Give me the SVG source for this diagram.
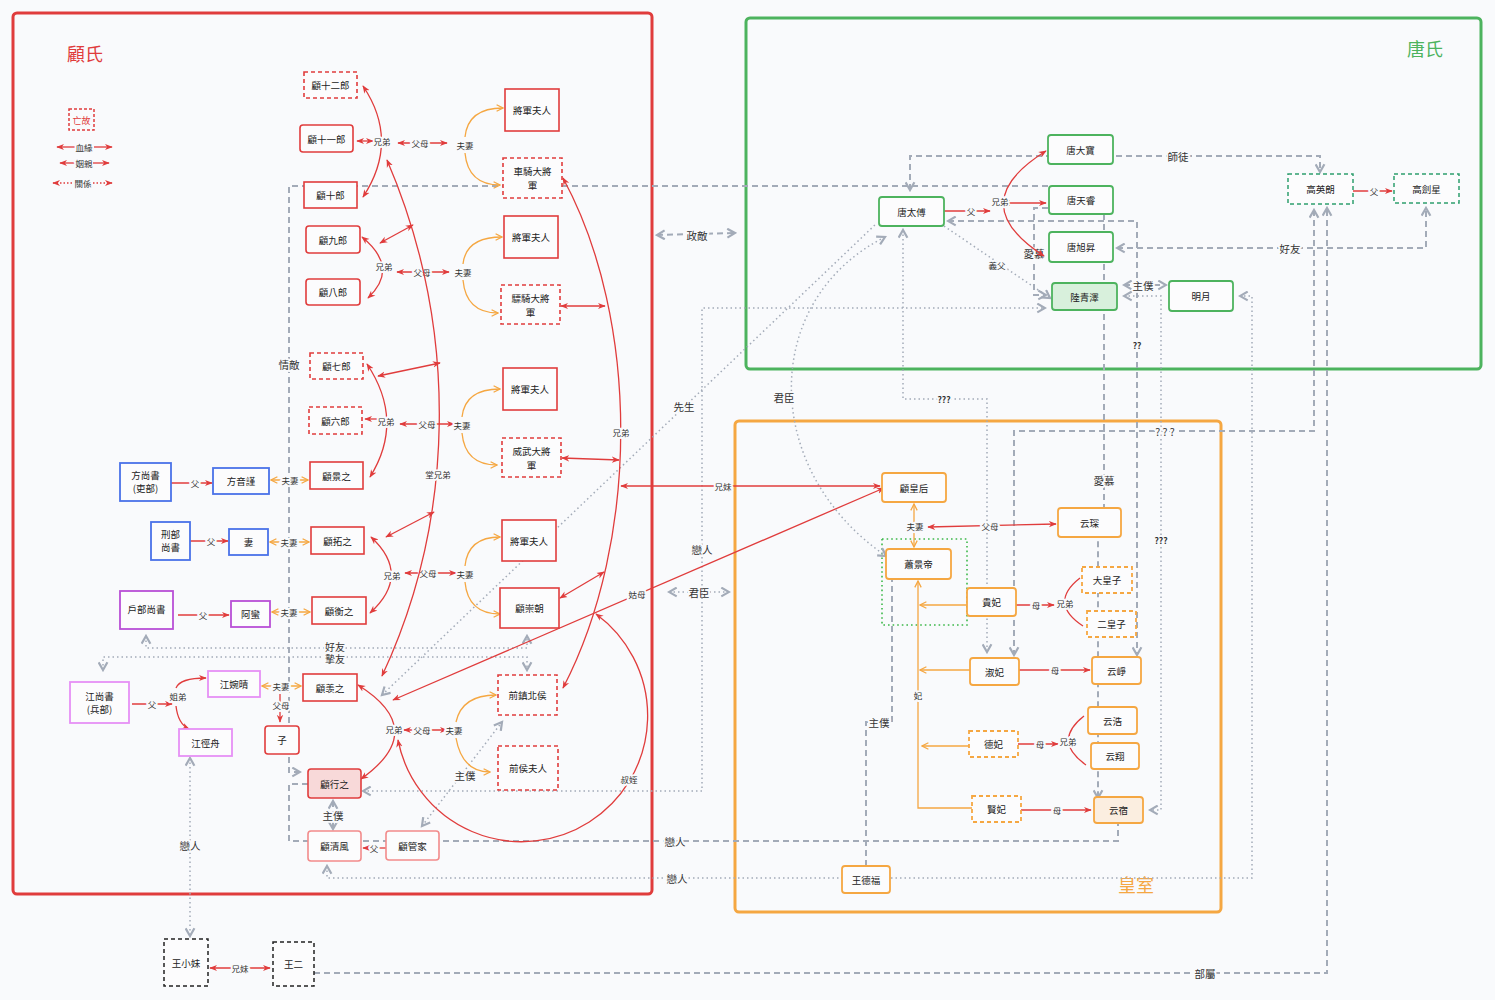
<svg xmlns="http://www.w3.org/2000/svg" width="1495" height="1000" viewBox="0 0 1495 1000">
<style>
text{font-family:"Noto Sans CJK TC","Noto Sans CJK SC",sans-serif;}
.t{font-size:9.5px;fill:#222;text-anchor:middle;dominant-baseline:central;}
.lb{font-size:8.5px;fill:#333;text-anchor:middle;dominant-baseline:central;paint-order:stroke;stroke:#f9fafc;stroke-width:4px;stroke-linejoin:round;}
.lg{font-size:10.5px;fill:#333;text-anchor:middle;dominant-baseline:central;paint-order:stroke;stroke:#f9fafc;stroke-width:4px;stroke-linejoin:round;}
.r{fill:#fcfcfd;stroke:#e03c3c;stroke-width:1.6;}
.o{fill:#fcfcfd;stroke:#f5a742;stroke-width:1.8;}
.g{fill:#fcfcfd;stroke:#4db35e;stroke-width:1.8;}
.b{fill:#fcfcfd;stroke:#4a72e8;stroke-width:1.8;}
.p{fill:#fcfcfd;stroke:#b94fd6;stroke-width:1.8;}
.pl{fill:#fcfcfd;stroke:#e690f5;stroke-width:1.8;}
.k{fill:#fcfcfd;stroke:#222;stroke-width:1.5;stroke-dasharray:4 3;}
.tl{fill:#fcfcfd;stroke:#2e9e6e;stroke-width:1.5;stroke-dasharray:4 3;}
.d{stroke-dasharray:4 3;}
.er{fill:none;stroke:#e03c3c;stroke-width:1.3;}
.eo{fill:none;stroke:#f5a742;stroke-width:1.3;}
.gd{fill:none;stroke:#a3abb8;stroke-width:2;stroke-dasharray:6 4;}
.gt{fill:none;stroke:#a3abb8;stroke-width:1.5;stroke-dasharray:1.5 3;}
</style>
<defs>
<marker id="ar" viewBox="0 0 10 10" refX="9" refY="5" markerWidth="8" markerHeight="8" markerUnits="userSpaceOnUse" orient="auto-start-reverse"><path d="M0,1 L10,5 L0,9 L3,5 z" fill="#e03c3c"/></marker>
<marker id="ao" viewBox="0 0 10 10" refX="9" refY="5" markerWidth="8" markerHeight="8" markerUnits="userSpaceOnUse" orient="auto-start-reverse"><path d="M1,1 L9,5 L1,9" fill="none" stroke="#f5a742" stroke-width="1.6"/></marker>
<marker id="ag" viewBox="0 0 10 10" refX="8" refY="5" markerWidth="11" markerHeight="11" markerUnits="userSpaceOnUse" orient="auto-start-reverse"><path d="M1,1 L8,5 L1,9" fill="none" stroke="#a3abb8" stroke-width="2"/></marker>
</defs>
<rect x="0" y="0" width="1495" height="1000" fill="#f9fafc"/>

<!-- containers -->
<g id="container-gu">
<rect x="13" y="13" width="639" height="881" rx="4" fill="none" stroke="#e03c3c" stroke-width="3"/>
<text x="85" y="53" style="font-size:18px;fill:#e03c3c;text-anchor:middle;dominant-baseline:central;">顧氏</text>
</g>
<g id="container-tang">
<rect x="746" y="18" width="735" height="351" rx="4" fill="none" stroke="#4db35e" stroke-width="3"/>
<text x="1425" y="48" style="font-size:18px;fill:#4db35e;text-anchor:middle;dominant-baseline:central;">唐氏</text>
</g>
<g id="container-royal">
<rect x="735" y="421" width="486" height="491" rx="4" fill="none" stroke="#f5a742" stroke-width="3"/>
<text x="1136" y="884" style="font-size:18px;fill:#f5a742;text-anchor:middle;dominant-baseline:central;">皇室</text>
</g>
<rect x="882" y="539" width="85" height="86" fill="none" stroke="#3cb84a" stroke-width="1.6" stroke-dasharray="1.6 3"/>

<!-- legend -->
<g id="legend">
<rect x="69" y="109" width="25" height="21" fill="none" stroke="#e03c3c" stroke-width="1.5" stroke-dasharray="3 2"/>
<text x="81.5" y="120" style="font-size:9px;fill:#e03c3c;text-anchor:middle;dominant-baseline:central;">亡故</text>
<line x1="57" y1="147" x2="75" y2="147" class="er" marker-start="url(#ar)"/>
<text x="84" y="147" class="lb">血緣</text>
<line x1="94" y1="147" x2="112" y2="147" class="er" marker-end="url(#ar)"/>
<line x1="60" y1="163" x2="76" y2="163" class="er" marker-start="url(#ar)"/>
<text x="84" y="163" class="lb">姻親</text>
<line x1="93" y1="163" x2="109" y2="163" class="er" marker-end="url(#ar)"/>
<line x1="53" y1="183" x2="74" y2="183" class="er" stroke-dasharray="1.5 2" marker-start="url(#ar)"/>
<text x="83" y="183" class="lb">關係</text>
<line x1="93" y1="183" x2="112" y2="183" class="er" stroke-dasharray="1.5 2" marker-end="url(#ar)"/>
</g>

<g id="connectors">
<!-- gray relationship connectors -->
<path class="gd" d="M300 772 L289 772 L289 186 L1049 186" marker-start="url(#ag)"/>
<text x="289" y="364" class="lg">情敵</text>
<path class="gd" d="M308 784 L289 784 L289 841 L1118 841 L1118 823"/>
<text x="675" y="841" class="lg">戀人</text>
<path class="gt" d="M327 866 L327 878 L1252 878 L1252 296 L1240 296" marker-start="url(#ag)" marker-end="url(#ag)"/>
<text x="677" y="878" class="lg">戀人</text>
<path class="gd" d="M314 973 L1327 973 L1327 208" marker-end="url(#ag)"/>
<text x="1205" y="973" class="lg">部屬</text>
<path class="gt" d="M146 636 L146 648 L527 648 L527 636" marker-start="url(#ag)" marker-end="url(#ag)"/>
<path class="gt" d="M103 670 L103 657 L527 657 L527 670" marker-start="url(#ag)" marker-end="url(#ag)"/>
<text x="335" y="646" class="lg" style="font-size:10px">好友</text>
<text x="335" y="658.5" class="lg" style="font-size:10px">摯友</text>
<line class="gd" x1="657" y1="235" x2="735" y2="233" marker-start="url(#ag)" marker-end="url(#ag)"/>
<text x="697" y="235" class="lg">政敵</text>
<line class="gt" x1="669" y1="592" x2="729" y2="592" marker-start="url(#ag)" marker-end="url(#ag)"/>
<text x="699" y="592" class="lg">君臣</text>
<line class="gt" x1="382" y1="695" x2="877" y2="223" marker-start="url(#ag)"/>
<text x="684" y="406" class="lg">先生</text>
<path class="gt" d="M885 237 C760 300 760 470 886 556" marker-start="url(#ag)" marker-end="url(#ag)"/>
<text x="784" y="397" class="lg">君臣</text>
<line class="gt" x1="944" y1="226" x2="1050" y2="298" stroke-width="1.2" marker-end="url(#ag)"/>
<text x="997" y="265" class="lb">義父</text>
<path class="gd" d="M910 190 L910 156 L1320 156 L1320 172" marker-start="url(#ag)" marker-end="url(#ag)"/>
<text x="1178" y="156" class="lg">師徒</text>
<path class="gd" d="M948 221 L1137 221 L1137 655" marker-start="url(#ag)" marker-end="url(#ag)"/>
<text x="1137" y="345" class="lb" style="font-weight:bold">??</text>
<path class="gd" d="M1117 248 L1426 248 L1426 208" marker-start="url(#ag)" marker-end="url(#ag)"/>
<text x="1290" y="248" class="lg">好友</text>
<line class="gd" x1="1124" y1="285" x2="1166" y2="285" marker-start="url(#ag)" marker-end="url(#ag)"/>
<text x="1143" y="285" class="lg">主僕</text>
<path class="gt" d="M1124 296 L1161 296 L1161 810 L1150 810" marker-start="url(#ag)" marker-end="url(#ag)"/>
<text x="1161" y="540" class="lb" style="font-weight:bold">???</text>
<path class="gd" d="M1048 208 L1034 208 L1034 295 L1046 295" marker-end="url(#ag)"/>
<text x="1034" y="253" class="lg">愛慕</text>
<path class="gd" d="M1104 214 L1104 510 L1098 515 L1098 798" marker-end="url(#ag)"/>
<text x="1104" y="480" class="lg">愛慕</text>
<path class="gd" d="M1314 210 L1314 431 L1014 431 L1014 655" marker-start="url(#ag)" marker-end="url(#ag)"/>
<text x="1165" y="431" class="lg">? ? ?</text>
<path class="gt" d="M903 230 L903 399 L987 399 L987 652" marker-start="url(#ag)" marker-end="url(#ag)"/>
<text x="944" y="399" class="lb" style="font-weight:bold">???</text>
<path class="gt" d="M363 791 L702 791 L702 308 L1045 308" marker-start="url(#ag)" marker-end="url(#ag)"/>
<text x="702" y="549" class="lg">戀人</text>
<line class="gt" x1="422" y1="826" x2="502" y2="722" marker-start="url(#ag)" marker-end="url(#ag)"/>
<text x="465" y="775" class="lg">主僕</text>
<path class="gd" d="M866 866 L866 722 L892 722 L892 579"/>
<text x="879" y="722" class="lg">主僕</text>
<line class="gd" x1="333" y1="801" x2="333" y2="829" marker-start="url(#ag)" marker-end="url(#ag)"/>
<text x="333" y="815" class="lg">主僕</text>
<line class="gt" x1="190" y1="758" x2="190" y2="936" marker-start="url(#ag)" marker-end="url(#ag)"/>
<text x="190" y="845" class="lg">戀人</text>

<!-- Gu family group 1 -->
<path class="er" d="M363 86 Q400 141 363 197" marker-start="url(#ar)" marker-end="url(#ar)"/>
<line class="er" x1="357" y1="141" x2="373" y2="141" marker-start="url(#ar)" marker-end="url(#ar)"/>
<text x="382" y="141" class="lb">兄弟</text>
<line class="er" x1="398" y1="143" x2="447" y2="143" marker-start="url(#ar)" marker-end="url(#ar)"/>
<text x="420" y="143" class="lb">父母</text>
<text x="465" y="145" class="lb">夫妻</text>
<path class="eo" d="M465 137 Q468 108 503 108" marker-end="url(#ao)"/>
<path class="eo" d="M465 153 Q468 185 500 185" marker-end="url(#ao)"/>
<!-- group 2 -->
<path class="er" d="M362 237 Q400 268 368 298" marker-start="url(#ar)" marker-end="url(#ar)"/>
<text x="384" y="266" class="lb">兄弟</text>
<line class="er" x1="397" y1="272" x2="449" y2="272" marker-start="url(#ar)" marker-end="url(#ar)"/>
<text x="422" y="272" class="lb">父母</text>
<text x="463" y="272" class="lb">夫妻</text>
<path class="eo" d="M463 264 Q466 237 502 237" marker-end="url(#ao)"/>
<path class="eo" d="M463 280 Q466 313 498 313" marker-end="url(#ao)"/>
<line class="er" x1="380" y1="243" x2="413" y2="225" marker-start="url(#ar)" marker-end="url(#ar)"/>
<!-- group 3 -->
<path class="er" d="M367 364 Q405 421 370 477" marker-start="url(#ar)" marker-end="url(#ar)"/>
<line class="er" x1="365" y1="419" x2="378" y2="419" marker-start="url(#ar)"/>
<text x="386" y="421" class="lb">兄弟</text>
<line class="er" x1="400" y1="424" x2="454" y2="424" marker-start="url(#ar)" marker-end="url(#ar)"/>
<text x="427" y="424" class="lb">父母</text>
<text x="462" y="425" class="lb">夫妻</text>
<path class="eo" d="M462 417 Q465 389 500 389" marker-end="url(#ao)"/>
<path class="eo" d="M462 433 Q465 465 497 465" marker-end="url(#ao)"/>
<line class="er" x1="378" y1="376" x2="440" y2="363" marker-start="url(#ar)" marker-end="url(#ar)"/>
<!-- group 4 -->
<path class="er" d="M371 537 Q412 575 370 613" marker-start="url(#ar)" marker-end="url(#ar)"/>
<text x="392" y="575" class="lb">兄弟</text>
<line class="er" x1="405" y1="573" x2="456" y2="573" marker-start="url(#ar)" marker-end="url(#ar)"/>
<text x="428" y="573" class="lb">父母</text>
<text x="465" y="574" class="lb">夫妻</text>
<path class="eo" d="M465 566 Q468 537 500 537" marker-end="url(#ao)"/>
<path class="eo" d="M465 582 Q468 614 500 614" marker-end="url(#ao)"/>
<line class="er" x1="386" y1="537" x2="434" y2="512" marker-start="url(#ar)" marker-end="url(#ar)"/>
<!-- group 5 -->
<path class="er" d="M358 685 Q430 730 361 779" marker-start="url(#ar)" marker-end="url(#ar)"/>
<text x="394" y="729" class="lb">兄弟</text>
<line class="er" x1="404" y1="730" x2="447" y2="730" marker-start="url(#ar)" marker-end="url(#ar)"/>
<text x="422" y="730" class="lb">父母</text>
<text x="454" y="730" class="lb">夫妻</text>
<path class="eo" d="M456 722 Q462 695 496 695" marker-end="url(#ao)"/>
<path class="eo" d="M456 738 Q462 772 490 772" marker-end="url(#ao)"/>
<!-- big curves -->
<path class="er" d="M387 160 C460 330 455 520 382 676" marker-start="url(#ar)" marker-end="url(#ar)"/>
<text x="438" y="474" class="lb">堂兄弟</text>
<path class="er" d="M563 178 C640 320 640 540 563 688" marker-start="url(#ar)" marker-end="url(#ar)"/>
<text x="621" y="432" class="lb">兄弟</text>
<line class="er" x1="561" y1="306" x2="605" y2="306" marker-start="url(#ar)" marker-end="url(#ar)"/>
<line class="er" x1="562" y1="458" x2="619" y2="460" marker-start="url(#ar)" marker-end="url(#ar)"/>
<line class="er" x1="560" y1="598" x2="604" y2="572" marker-start="url(#ar)" marker-end="url(#ar)"/>
<line class="er" x1="621" y1="486" x2="880" y2="486" marker-start="url(#ar)" marker-end="url(#ar)"/>
<text x="723" y="486" class="lb">兄妹</text>
<line class="er" x1="393" y1="700" x2="884" y2="488" marker-start="url(#ar)" marker-end="url(#ar)"/>
<text x="637" y="594" class="lb">姑母</text>
<path class="er" d="M398 740 A126 126 0 1 0 596 614" marker-start="url(#ar)" marker-end="url(#ar)"/>
<text x="629" y="779" class="lb">叔姪</text>

<!-- in-laws -->
<line class="er" x1="171" y1="483" x2="212" y2="483" marker-end="url(#ar)"/>
<text x="195" y="483" class="lb">父</text>
<line class="eo" x1="271" y1="480" x2="308" y2="480" marker-start="url(#ao)" marker-end="url(#ao)"/>
<text x="290" y="480" class="lb">夫妻</text>
<line class="er" x1="190" y1="541" x2="228" y2="541" marker-end="url(#ar)"/>
<text x="211" y="541" class="lb">父</text>
<line class="eo" x1="270" y1="542" x2="309" y2="542" marker-start="url(#ao)" marker-end="url(#ao)"/>
<text x="289" y="542" class="lb">夫妻</text>
<line class="er" x1="178" y1="615" x2="229" y2="615" marker-end="url(#ar)"/>
<text x="203" y="615" class="lb">父</text>
<line class="eo" x1="272" y1="612" x2="310" y2="612" marker-start="url(#ao)" marker-end="url(#ao)"/>
<text x="289" y="612" class="lb">夫妻</text>
<line class="er" x1="132" y1="704" x2="172" y2="704" marker-end="url(#ar)"/>
<text x="152" y="704" class="lb">父</text>
<text x="178" y="696" class="lb">姐弟</text>
<path class="er" d="M176 688 Q180 678 206 678" marker-end="url(#ar)"/>
<path class="er" d="M176 706 Q178 724 189 729" marker-end="url(#ar)"/>
<line class="eo" x1="262" y1="686" x2="301" y2="686" marker-start="url(#ao)" marker-end="url(#ao)"/>
<text x="281" y="686" class="lb">夫妻</text>
<line class="er" x1="280" y1="694" x2="280" y2="722" marker-end="url(#ar)"/>
<text x="281" y="705" class="lb">父母</text>
<line class="er" x1="386" y1="848" x2="363" y2="848" marker-end="url(#ar)"/>
<text x="374" y="848" class="lb">父</text>
<line class="er" x1="210" y1="968" x2="270" y2="968" marker-start="url(#ar)" marker-end="url(#ar)"/>
<text x="240" y="968" class="lb">兄妹</text>

<!-- Tang -->
<line class="er" x1="944" y1="211" x2="990" y2="211" marker-end="url(#ar)"/>
<text x="971" y="211" class="lb">父</text>
<path class="er" d="M1046 151 Q962 203 1044 256" marker-start="url(#ar)" marker-end="url(#ar)"/>
<line class="er" x1="1003" y1="203" x2="1046" y2="203" marker-start="url(#ar)" marker-end="url(#ar)"/>
<text x="1000" y="201" class="lb">兄弟</text>
<line class="er" x1="1353" y1="191" x2="1392" y2="191" marker-end="url(#ar)"/>
<text x="1374" y="191" class="lb">父</text>

<!-- royal -->
<line class="eo" x1="914" y1="504" x2="914" y2="547" marker-start="url(#ao)" marker-end="url(#ao)"/>
<text x="915" y="526" class="lb">夫妻</text>
<line class="er" x1="928" y1="527" x2="1056" y2="524" marker-start="url(#ar)" marker-end="url(#ar)"/>
<text x="990" y="526" class="lb">父母</text>
<path class="eo" d="M918 581 L918 808 L972 808" marker-start="url(#ao)"/>
<line class="eo" x1="967" y1="605" x2="920" y2="605" marker-end="url(#ao)"/>
<line class="eo" x1="970" y1="670" x2="920" y2="670" marker-end="url(#ao)"/>
<line class="eo" x1="969" y1="746" x2="922" y2="746" marker-end="url(#ao)"/>
<text x="918" y="695" class="lb">妃</text>
<line class="er" x1="1016" y1="605" x2="1054" y2="605" marker-end="url(#ar)"/>
<text x="1036" y="605" class="lb">母</text>
<path class="er" d="M1080 578 Q1048 603 1083 626"/>
<text x="1065" y="603" class="lb">兄弟</text>
<line class="er" x1="1019" y1="670" x2="1090" y2="670" marker-end="url(#ar)"/>
<text x="1055" y="670" class="lb">母</text>
<line class="er" x1="1018" y1="744" x2="1058" y2="744" marker-end="url(#ar)"/>
<text x="1040" y="744" class="lb">母</text>
<path class="er" d="M1084 716 Q1052 741 1086 765"/>
<text x="1068" y="741" class="lb">兄弟</text>
<line class="er" x1="1021" y1="810" x2="1091" y2="810" marker-end="url(#ar)"/>
<text x="1057" y="810" class="lb">母</text>
</g>

<!-- Gu nodes -->
<g id="gu12"><rect class="r d" x="304" y="72" width="53" height="26"/><text class="t" x="330.5" y="85">顧十二郎</text></g>
<g id="gu11"><rect class="r" x="300" y="125" width="53" height="27" rx="3"/><text class="t" x="326.5" y="138.5">顧十一郎</text></g>
<g id="gu10"><rect class="r" x="304" y="182" width="53" height="26"/><text class="t" x="330.5" y="195">顧十郎</text></g>
<g id="gu9"><rect class="r" x="306" y="226" width="54" height="27" rx="3"/><text class="t" x="333" y="239.5">顧九郎</text></g>
<g id="gu8"><rect class="r" x="306" y="279" width="54" height="26" rx="3"/><text class="t" x="333" y="292">顧八郎</text></g>
<g id="gu7"><rect class="r d" x="310" y="353" width="53" height="26"/><text class="t" x="336.5" y="366">顧七郎</text></g>
<g id="gu6"><rect class="r d" x="309" y="407" width="53" height="27"/><text class="t" x="335.5" y="420.5">顧六郎</text></g>
<g id="gujing"><rect class="r" x="310" y="462" width="53" height="27"/><text class="t" x="336.5" y="475.5">顧景之</text></g>
<g id="gutuo"><rect class="r" x="311" y="527" width="53" height="27"/><text class="t" x="337.5" y="540.5">顧拓之</text></g>
<g id="guheng"><rect class="r" x="312" y="597" width="54" height="27"/><text class="t" x="339" y="610.5">顧衡之</text></g>
<g id="guxian"><rect class="r" x="303" y="674" width="54" height="27"/><text class="t" x="330" y="687.5">顧羡之</text></g>
<g id="zi"><rect class="r" x="265" y="726" width="34" height="28" rx="3"/><text class="t" x="282" y="740">子</text></g>
<g id="guxing"><rect class="r" x="308" y="769" width="53" height="29" rx="3" style="fill:#f8d9d9"/><text class="t" x="334.5" y="783.5">顧行之</text></g>
<g id="guqingfeng"><rect class="r" x="308" y="831" width="53" height="30" rx="3" style="stroke:#f28b8b"/><text class="t" x="334.5" y="846">顧清風</text></g>
<g id="guguanjia"><rect class="r" x="386" y="831" width="53" height="29" rx="3" style="stroke:#f28b8b"/><text class="t" x="412.5" y="845.5">顧管家</text></g>
<g id="wife1"><rect class="r" x="505" y="89" width="54" height="42"/><text class="t" x="532" y="110">將軍夫人</text></g>
<g id="cheqi"><rect class="r d" x="503" y="158" width="59" height="40"/><text class="t" x="532.5" y="178"><tspan x="532.5" dy="-7">車騎大將</tspan><tspan x="532.5" dy="14">軍</tspan></text></g>
<g id="wife2"><rect class="r" x="504" y="216" width="54" height="42"/><text class="t" x="531" y="237">將軍夫人</text></g>
<g id="piaoqi"><rect class="r d" x="501" y="285" width="59" height="39"/><text class="t" x="530.5" y="304.5"><tspan x="530.5" dy="-7">驃騎大將</tspan><tspan x="530.5" dy="14">軍</tspan></text></g>
<g id="wife3"><rect class="r" x="503" y="368" width="54" height="42"/><text class="t" x="530" y="389">將軍夫人</text></g>
<g id="weiwu"><rect class="r d" x="502" y="438" width="59" height="39"/><text class="t" x="531.5" y="457.5"><tspan x="531.5" dy="-7">威武大將</tspan><tspan x="531.5" dy="14">軍</tspan></text></g>
<g id="wife4"><rect class="r" x="502" y="520" width="54" height="41"/><text class="t" x="529" y="540.5">將軍夫人</text></g>
<g id="guchongchao"><rect class="r" x="500" y="588" width="59" height="40"/><text class="t" x="529.5" y="608">顧崇朝</text></g>
<g id="zhenbeihou"><rect class="r d" x="498" y="675" width="59" height="40"/><text class="t" x="527.5" y="695">前鎮北侯</text></g>
<g id="houfuren"><rect class="r d" x="498" y="746" width="60" height="44"/><text class="t" x="528" y="768">前侯夫人</text></g>

<!-- in-law nodes -->
<g id="fang"><rect class="b" x="120" y="463" width="51" height="38"/><text class="t" x="145.5" y="482"><tspan x="145.5" dy="-7">方尚書</tspan><tspan x="145.5" dy="13">(吏部)</tspan></text></g>
<g id="fangyinjin"><rect class="b" x="213" y="468" width="56" height="26"/><text class="t" x="241" y="481">方音謹</text></g>
<g id="xingbu"><rect class="b" x="151" y="522" width="39" height="38"/><text class="t" x="170.5" y="541"><tspan x="170.5" dy="-7">刑部</tspan><tspan x="170.5" dy="13">尚書</tspan></text></g>
<g id="qi"><rect class="b" x="229" y="529" width="39" height="26"/><text class="t" x="248.5" y="542">妻</text></g>
<g id="hubu"><rect class="p" x="120" y="591" width="53" height="38"/><text class="t" x="146.5" y="609">戶部尚書</text></g>
<g id="aman"><rect class="p" x="231" y="601" width="39" height="26"/><text class="t" x="250.5" y="614">阿蠻</text></g>
<g id="jiang"><rect class="pl" x="70" y="682" width="59" height="41"/><text class="t" x="99.5" y="702.5"><tspan x="99.5" dy="-7">江尚書</tspan><tspan x="99.5" dy="13">(兵部)</tspan></text></g>
<g id="jiangwanqing"><rect class="pl" x="208" y="671" width="52" height="26"/><text class="t" x="234" y="684">江婉晴</text></g>
<g id="jiangjingzhou"><rect class="pl" x="179" y="729" width="53" height="27"/><text class="t" x="205.5" y="742.5">江徑舟</text></g>
<g id="wangxiaomei"><rect class="k" x="164" y="939" width="44" height="47"/><text class="t" x="186" y="962.5">王小妹</text></g>
<g id="wanger"><rect class="k" x="273" y="942" width="41" height="44"/><text class="t" x="293.5" y="964">王二</text></g>

<!-- Tang nodes -->
<g id="tangdabao"><rect class="g" x="1048" y="135" width="65" height="29" rx="3"/><text class="t" x="1080.5" y="149.5">唐大寶</text></g>
<g id="tangtianrui"><rect class="g" x="1049" y="186" width="64" height="28" rx="3"/><text class="t" x="1081" y="200">唐天睿</text></g>
<g id="tangtaifu"><rect class="g" x="879" y="197" width="65" height="29" rx="3"/><text class="t" x="911.5" y="211.5">唐太傅</text></g>
<g id="tangxusheng"><rect class="g" x="1049" y="232" width="64" height="30" rx="3"/><text class="t" x="1081" y="247">唐旭昇</text></g>
<g id="luqingze"><rect class="g" x="1052" y="283" width="65" height="27" rx="3" style="fill:#d8f0dc"/><text class="t" x="1084.5" y="296.5">陸青澤</text></g>
<g id="mingyue"><rect class="g" x="1169" y="281" width="64" height="30" rx="3"/><text class="t" x="1201" y="296">明月</text></g>
<g id="gaoyinglang"><rect class="tl" x="1288" y="174" width="65" height="30"/><text class="t" x="1320.5" y="189">高英朗</text></g>
<g id="gaojianxing"><rect class="tl" x="1394" y="174" width="65" height="29"/><text class="t" x="1426.5" y="188.5">高劍星</text></g>

<!-- Royal nodes -->
<g id="guhuanghou"><rect class="o" x="882" y="473" width="64" height="29" rx="3"/><text class="t" x="914" y="487.5">顧皇后</text></g>
<g id="xiaojingdi"><rect class="o" x="886" y="549" width="65" height="30" rx="3"/><text class="t" x="918.5" y="564">蕭景帝</text></g>
<g id="guifei"><rect class="o" x="967" y="588" width="49" height="28" rx="3"/><text class="t" x="991.5" y="602">貴妃</text></g>
<g id="yunchen"><rect class="o" x="1058" y="508" width="63" height="29" rx="3"/><text class="t" x="1089.5" y="522.5">云琛</text></g>
<g id="dahuangzi"><rect class="o d" x="1082" y="567" width="50" height="26"/><text class="t" x="1107" y="580">大皇子</text></g>
<g id="erhuangzi"><rect class="o d" x="1087" y="611" width="49" height="26"/><text class="t" x="1111.5" y="624">二皇子</text></g>
<g id="shufei"><rect class="o" x="970" y="658" width="49" height="27" rx="3"/><text class="t" x="994.5" y="671.5">淑妃</text></g>
<g id="yunzheng"><rect class="o" x="1092" y="657" width="49" height="27" rx="3"/><text class="t" x="1116.5" y="670.5">云崢</text></g>
<g id="yunhao"><rect class="o" x="1088" y="707" width="49" height="27" rx="3"/><text class="t" x="1112.5" y="720.5">云浩</text></g>
<g id="yunxiang"><rect class="o" x="1091" y="743" width="48" height="26" rx="3"/><text class="t" x="1115" y="756">云翔</text></g>
<g id="defei"><rect class="o d" x="969" y="731" width="49" height="26"/><text class="t" x="993.5" y="744">德妃</text></g>
<g id="xianfei"><rect class="o d" x="972" y="796" width="49" height="26"/><text class="t" x="996.5" y="809">賢妃</text></g>
<g id="yunsu"><rect class="o" x="1094" y="797" width="49" height="26" rx="3" style="fill:#fbeee0"/><text class="t" x="1118.5" y="810">云宿</text></g>
<g id="wangdefu"><rect class="o" x="842" y="866" width="48" height="27" rx="3"/><text class="t" x="866" y="879.5">王德福</text></g>
</svg>
